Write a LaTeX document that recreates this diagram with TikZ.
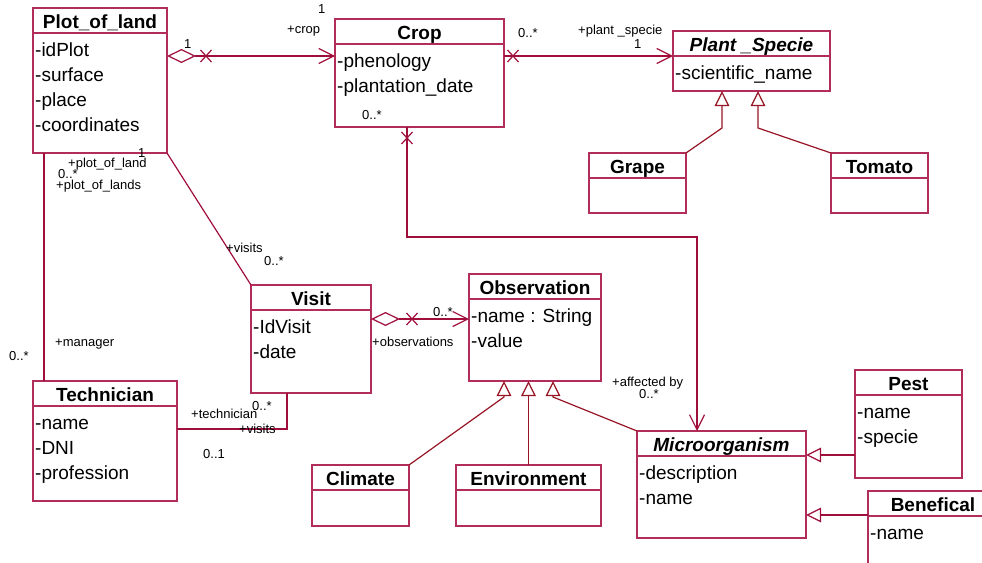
\documentclass[tikz,border=0pt]{standalone}
\usepackage{fontspec}
\setmainfont{Liberation Sans}
\usetikzlibrary{arrows.meta,calc}

\definecolor{boxred}{RGB}{178,45,90}
\definecolor{linkred}{RGB}{160,15,60}
\definecolor{genred}{RGB}{150,20,35}

\tikzset{
  classbox/.style={draw=boxred, line width=1.3pt, inner sep=0pt, outer sep=0pt, anchor=north west},
  divider/.style={draw=boxred, line width=1.3pt},
  classname/.style={font=\fontsize{19}{22}\selectfont\bfseries, anchor=base, inner sep=0pt},
  abstractname/.style={font=\fontsize{19}{22}\selectfont\bfseries\itshape, anchor=base, inner sep=0pt},
  attrtext/.style={font=\fontsize{19}{22}\selectfont, anchor=base west, inner sep=0pt},
  rolelabel/.style={font=\fontsize{13}{15}\selectfont, anchor=base west, inner sep=0pt},
  assoc/.style={draw=linkred, line width=1.2pt},
  gen/.style={draw=genred, line width=1.2pt},
  nav/.style={arrows={-Straight Barb[length=15pt,width=15pt,line width=1.2pt]}},
  aggnav/.style={arrows={Diamond[open,length=29pt,width=14pt,line width=1.2pt]-Straight Barb[length=15pt,width=15pt,line width=1.2pt]}},
  inherit/.style={arrows={-Triangle[open,length=15pt,width=14.5pt,line width=1.2pt]}},
  xmark/.pic={\draw[assoc] (-5.5,-6) -- (5.5,6) (-5.5,6) -- (5.5,-6);},
}

% class box: name, left, top, width, height, title style, title
\newcommand\umlclass[7]{%
  \node[classbox, minimum width=#4pt, minimum height=#5pt] (#1) at (#2,#3) {};
  \draw[divider] ($(#1.north west)+(0,25)$) -- ($(#1.north east)+(0,25)$);
  \node[#6] (#1-title) at ($(#1.north)+(0,20.5)$) {#7};
}
% attribute line: class, index, text
\newcommand\umlattr[3]{%
  \node[attrtext] (#1-a#2) at ($(#1.north west)+(2,{48+25*(#2-1)})$) {#3};
}
% role / multiplicity label: name, x, baseline y, text
\newcommand\rolelab[4]{\node[rolelabel] (#1) at (#2,#3) {#4};}

\begin{document}
\begin{tikzpicture}[x=1pt, y=-1pt]
\clip (0,0) rectangle (982,562);

% ---- classes ----
\umlclass{plot}{33}{8}{134}{145}{classname}{Plot\_of\_land}
\umlattr{plot}{1}{-idPlot}
\umlattr{plot}{2}{-surface}
\umlattr{plot}{3}{-place}
\umlattr{plot}{4}{-coordinates}

\umlclass{crop}{335}{19}{169}{108}{classname}{Crop}
\umlattr{crop}{1}{-phenology}
\umlattr{crop}{2}{-plantation\_date}

\umlclass{plant}{673}{31}{157}{60}{abstractname}{Plant \_Specie}
\umlattr{plant}{1}{-scientific\_name}

\umlclass{grape}{589}{153}{97}{60}{classname}{Grape}
\umlclass{tomato}{831}{153}{97}{60}{classname}{Tomato}

\umlclass{visit}{251}{285}{120}{108}{classname}{Visit}
\umlattr{visit}{1}{-IdVisit}
\umlattr{visit}{2}{-date}

\umlclass{obs}{469}{274}{132}{107}{classname}{Observation}
\umlattr{obs}{1}{-name : String}
\umlattr{obs}{2}{-value}

\umlclass{tech}{33}{381}{144}{120}{classname}{Technician}
\umlattr{tech}{1}{-name}
\umlattr{tech}{2}{-DNI}
\umlattr{tech}{3}{-profession}

\umlclass{micro}{637}{431}{169}{107}{abstractname}{Microorganism}
\umlattr{micro}{1}{-description}
\umlattr{micro}{2}{-name}

\umlclass{pest}{855}{370}{107}{108}{classname}{Pest}
\umlattr{pest}{1}{-name}
\umlattr{pest}{2}{-specie}

\umlclass{benef}{868}{491}{130}{90}{classname}{Benefical}
\umlattr{benef}{1}{-name}

\umlclass{climate}{312}{465}{97}{61}{classname}{Climate}
\umlclass{env}{456}{465}{145}{61}{classname}{Environment}

% ---- associations ----
\draw[assoc, aggnav] ($(plot.north east)+(0,48)$) -- ($(crop.north west)+(0,37)$);
\pic at ($(plot.north east)+(39,48)$) {xmark};

\draw[assoc, nav] ($(crop.north east)+(0,37)$) -- ($(plant.north west)+(0,25)$);
\pic at ($(crop.north east)+(9,37)$) {xmark};

\draw[assoc, nav] ($(crop.south west)+(72,0)$) -- ++(0,110) -| ($(micro.north west)+(60,0)$);
\pic at ($(crop.south west)+(72,11)$) {xmark};

\draw[assoc] (plot.south east) -- (visit.north west);
\draw[assoc] ($(plot.south west)+(11,0)$) -- ($(tech.north west)+(11,0)$);
\draw[assoc] ($(visit.south west)+(36,0)$) |- ($(tech.north east)+(0,48)$);

\draw[assoc, aggnav] ($(visit.north east)+(0,34)$) -- ($(obs.north west)+(0,45)$);
\pic at ($(visit.north east)+(41,34)$) {xmark};

% ---- generalizations ----
\draw[gen, inherit] (grape.north east) -- ($(plant.south west)+(49,37)$) -- ($(plant.south west)+(49,0)$);
\draw[gen, inherit] (tomato.north west) -- ($(plant.south west)+(85,37)$) -- ($(plant.south west)+(85,0)$);

\draw[gen, inherit] (climate.north east) -- ($(obs.south west)+(35,16)$) -- ($(obs.south west)+(35,0)$);
\draw[gen, inherit] (env.north) -- (env.north |- obs.south);
\draw[gen, inherit] (micro.north west) -- ($(obs.south west)+(84,16)$) -- ($(obs.south west)+(84,0)$);

\draw[assoc, inherit] ($(pest.north west)+(0,85)$) -- ($(micro.north east)+(0,24)$);
\draw[assoc, inherit] ($(benef.north west)+(0,24)$) -- ($(micro.north east)+(0,84)$);

% ---- role names and multiplicities ----
\rolelab{m1}{184}{48}{1}
\rolelab{m2}{318}{13}{1}
\rolelab{r1}{287}{33}{+crop}
\rolelab{m3}{518}{37}{0..*}
\rolelab{r2}{578}{34}{+plant \_specie}
\rolelab{m4}{634}{48}{1}
\rolelab{m5}{362}{119}{0..*}
\rolelab{m6}{138}{157}{1}
\rolelab{r3}{68}{167}{+plot\_of\_land}
\rolelab{m7}{58}{178}{0..*}
\rolelab{r4}{56}{189}{+plot\_of\_lands}
\rolelab{r5}{226}{252}{+visits}
\rolelab{m8}{264}{265}{0..*}
\rolelab{r6}{55}{346}{+manager}
\rolelab{m9}{9}{360}{0..*}
\rolelab{r7}{191}{418}{+technician}
\rolelab{m10}{252}{410}{0..*}
\rolelab{r8}{239}{433}{+visits}
\rolelab{m11}{203}{458}{0..1}
\rolelab{m12}{433}{316}{0..*}
\rolelab{r9}{372}{346}{+observations}
\rolelab{r10}{612}{386}{+affected by}
\rolelab{m13}{639}{398}{0..*}
\end{tikzpicture}
\end{document}
